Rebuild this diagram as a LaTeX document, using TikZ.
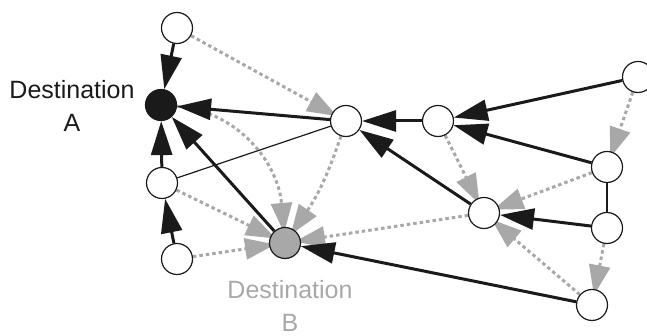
\documentclass[tikz,border=0pt]{standalone}
\usepackage{fontspec}
\setmainfont{Liberation Sans}
\usetikzlibrary{arrows.meta,backgrounds}
\definecolor{ink}{HTML}{1A1A1A}
\definecolor{shade}{HTML}{A8A8A8}

\begin{document}
\begin{tikzpicture}
[x=1pt, y=1pt, every node/.style={color=ink},
 vertex/.style={circle, draw=ink, line width=1.2pt, fill=white, minimum size=31pt, inner sep=0pt},
 route/.style={draw=ink, line width=3pt, -{Triangle[length=34pt 0 0,width=21pt 0 0]}},
 link/.style={draw=ink, line width=1.2pt},
 probe/.style={draw=shade, line width=3pt, dash pattern=on 3.5pt off 3pt, shorten >=-6pt,
   -{Triangle[length=30pt 0 0,width=21pt 0 0]}},
 caption/.style={font={\fontsize{25}{33}\selectfont}, align=center, inner sep=0pt, anchor=north}]
    \useasboundingbox (0, 0) rectangle (647, 336);
    % routers
    \node[vertex] (n1) at (177, 308) {};
    \node[vertex, fill=ink] (A) at (161, 231) {};
    \node[vertex] (n2) at (346, 215) {};
    \node[vertex] (n3) at (438, 215) {};
    \node[vertex] (n4) at (638, 259) {};
    \node[vertex] (n5) at (607, 169) {};
    \node[vertex] (n6) at (162, 153) {};
    \node[vertex, fill=shade] (B) at (285, 93) {};
    \node[vertex] (n7) at (177, 77) {};
    \node[vertex] (n8) at (484, 123) {};
    \node[vertex] (n9) at (607, 108) {};
    \node[vertex] (n10) at (592, 31) {};
    % destinations
    \node[caption] (labA) at (72, 256) {Destination\\A};
    \node[caption, text=shade] (labB) at (290, 56) {Destination\\B};
    \begin{scope}[on background layer]
    % backup routes
    \draw[probe] (n1) -- (n2);
    \draw[probe] (A) to[out=-5, in=95] (B);
    \draw[probe] (n2) to[bend left=8] (B);
    \draw[probe] (n6) -- (B);
    \draw[probe] (n7) -- (B);
    \draw[probe] (n8) -- (B);
    \draw[probe] (n3) -- (n8);
    \draw[probe] (n5) -- (n8);
    \draw[probe] (n4) -- (n5);
    \draw[probe] (n9) -- (n10);
    \draw[probe] (n10) -- (n8);
    % plain links
    \draw[link] (n6) -- (n2);
    \draw[link] (n5) -- (n9);
    % main routes
    \draw[route] (n1) -- (A);
    \draw[route] (n2) -- (A);
    \draw[route] (n6) -- (A);
    \draw[route] (B) -- (A);
    \draw[route] (n7) -- (n6);
    \draw[route] (n3) -- (n2);
    \draw[route] (n8) -- (n2);
    \draw[route] (n4) -- (n3);
    \draw[route] (n5) -- (n3);
    \draw[route] (n9) -- (n8);
    \draw[route] (n10) -- (B);
    \end{scope}
\end{tikzpicture}
\end{document}
